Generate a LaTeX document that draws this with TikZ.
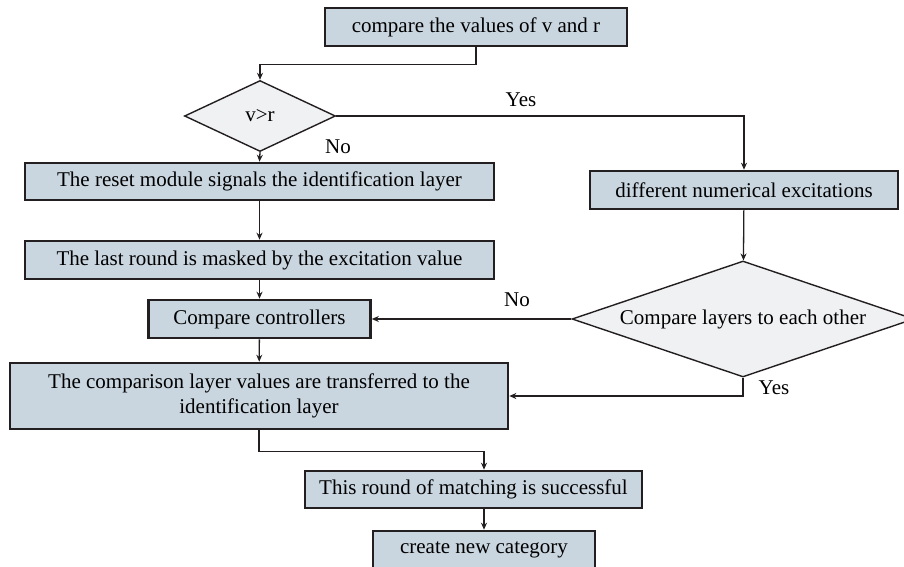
\documentclass[tikz,border=0pt]{standalone}
\usepackage{fontspec}
\setmainfont{Liberation Serif}
\usetikzlibrary{shapes.geometric,arrows.meta}
\definecolor{boxfill}{RGB}{201,214,224}
\definecolor{diafill}{RGB}{240,241,243}
\definecolor{edge}{RGB}{35,31,32}
\tikzset{
  x=1pt,y=-1pt,
  procbox/.style={draw=edge,line width=2.6pt,fill=boxfill,rectangle,inner sep=0pt,align=center,font=\fontsize{21}{25}\selectfont},
  decide/.style={draw=edge,line width=1.4pt,fill=diafill,diamond,inner sep=0pt,font=\fontsize{21}{25}\selectfont},
  arr/.style={draw=edge,line width=1.3pt,-{Stealth[length=7pt,width=6pt]}},
  lbl/.style={font=\fontsize{21}{25}\selectfont,inner sep=0pt}
}
\begin{document}
\begin{tikzpicture}
\useasboundingbox (0,0) rectangle (904,567);
\node[procbox,minimum width=302,minimum height=38] (b1) at (476,27) {compare the values of v and r};
\node[decide,aspect=2.13,minimum width=151,minimum height=71] (d1) at (260,116) {v>r};
\node[procbox,minimum width=469,minimum height=37] (b2) at (259.5,181.5) {The reset module signals the identification layer};
\node[procbox,minimum width=469,minimum height=38] (b3) at (259.5,260) {The last round is masked by the excitation value};
\node[procbox,minimum width=222,minimum height=38] (b4) at (259.5,319) {Compare controllers};
\node[procbox,minimum width=308,minimum height=38] (b5) at (744,190) {different numerical excitations};
\node[decide,aspect=2.95,minimum width=342,minimum height=116] (d2) at (743,319) {Compare layers to each other};
\node[procbox,minimum width=498,minimum height=66] (b6) at (259,396) {The comparison layer values are transferred to the\\identification layer};
\node[procbox,minimum width=337,minimum height=37] (b7) at (473.5,489.5) {This round of matching is successful};
\node[procbox,minimum width=222,minimum height=38] (b8) at (484,550) {create new category};

\draw[arr] (b1.south) -- ++(0,17) -| (d1.north);
\draw[arr] (d1.east) -| (b5.north);
\node[lbl] (yes1) at (521,100) {Yes};
\draw[arr] (d1.south) -- (b2.north);
\node[lbl] (no1) at (338,147) {No};
\draw[arr] (b2) -- (b3);
\draw[arr] (b3) -- (b4);
\draw[arr] (b4) -- (b6);
\draw[arr] (b5) -- (d2);
\draw[arr] (d2.west) -- (b4.east);
\node[lbl] (no2) at (517,300) {No};
\draw[arr] (d2.south) |- (b6.east);
\node[lbl] (yes2) at (774,388) {Yes};
\draw[arr] (b6.south) -- ++(0,21) -| (b8.north |- b7.north);
\draw[arr] (b8.north |- b7.south) -- (b8.north);
\end{tikzpicture}
\end{document}
